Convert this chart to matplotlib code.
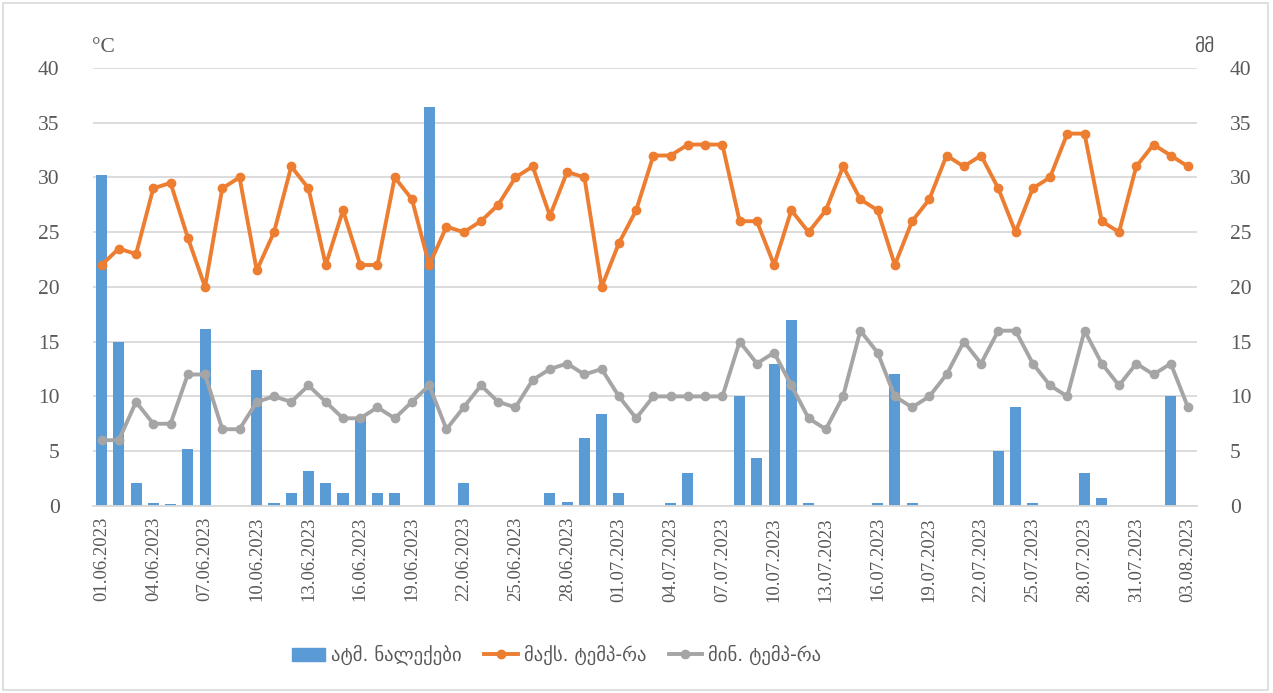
import matplotlib
matplotlib.use('Agg')
import matplotlib.pyplot as plt
import matplotlib.patches as mpatches
import pandas as pd
import numpy as np

# daily observations 01.06.2023 - 03.08.2023
dates = pd.date_range("2023-06-01", "2023-08-03", freq="D")
date_labels = [d.strftime("%d.%m.%Y") for d in dates]

precip = [30.2, 15.0, 2.1, 0.3, 0.15, 5.2, 16.2, 0, 0, 12.4,
          0.3, 1.2, 3.2, 2.1, 1.2, 8.1, 1.2, 1.2, 0, 36.4,
          0, 2.1, 0, 0, 0, 0, 1.2, 0.4, 6.2, 8.4,
          1.2, 0, 0, 0.3, 3.0, 0, 0, 10.0, 4.35, 13.0,
          17.0, 0.3, 0, 0, 0, 0.3, 12.0, 0.3, 0, 0,
          0, 0, 5.0, 9.0, 0.3, 0, 0, 3.0, 0.75, 0,
          0, 0, 10.0, 0]

tmax = [22, 23.5, 23, 29, 29.5, 24.5, 20, 29, 30, 21.5,
        25, 31, 29, 22, 27, 22, 22, 30, 28, 22,
        25.5, 25, 26, 27.5, 30, 31, 26.5, 30.5, 30, 20,
        24, 27, 32, 32, 33, 33, 33, 26, 26, 22,
        27, 25, 27, 31, 28, 27, 22, 26, 28, 32,
        31, 32, 29, 25, 29, 30, 34, 34, 26, 25,
        31, 33, 32, 31]

tmin = [6, 6, 9.5, 7.5, 7.5, 12, 12, 7, 7, 9.5,
        10, 9.5, 11, 9.5, 8, 8, 9, 8, 9.5, 11,
        7, 9, 11, 9.5, 9, 11.5, 12.5, 13, 12, 12.5,
        10, 8, 10, 10, 10, 10, 10, 15, 13, 14,
        11, 8, 7, 10, 16, 14, 10, 9, 10, 12,
        15, 13, 16, 16, 13, 11, 10, 16, 13, 11,
        13, 12, 13, 9]

yticks = [0, 5, 10, 15, 20, 25, 30, 35, 40]

serif = 'Liberation Serif'
geo = 'DejaVu Sans'
txt_col = '#595959'

fig = plt.figure(figsize=(12.73, 6.93), dpi=100)
fig.patches.append(mpatches.Rectangle((0.002, 0.004), 0.994, 0.992, transform=fig.transFigure,
                                      fill=False, edgecolor='#d9d9d9', linewidth=1.2))

ax = fig.add_axes([0.073, 0.270, 0.867, 0.632])
ax2 = ax.twinx()
ax.set_zorder(2)
ax2.set_zorder(1)
ax.patch.set_visible(False)

x = np.arange(len(dates))

# precipitation bars (mm) on the right axis, underneath
ax2.bar(x, precip, width=0.64, color='#5B9BD5', label='ატმ. ნალექები', zorder=2)
ax2.set_ylim(0, 40)
ax2.set_yticks(yticks)
ax2.grid(axis='y', color='#d9d9d9', linewidth=1.3, zorder=0)
ax2.set_axisbelow(True)

l1, = ax.plot(x, tmax, color='#ED7D31', linewidth=2.8, marker='o', markersize=6,
              label='მაქს. ტემპ-რა')
l2, = ax.plot(x, tmin, color='#A5A5A5', linewidth=2.8, marker='o', markersize=6,
              label='მინ. ტემპ-რა')
ax.set_ylim(0, 40)
ax.set_yticks(yticks)
ax.set_xlim(-0.5, len(dates) - 0.5)
ax.set_xticks(x[::3])
ax.set_xticklabels(date_labels[::3], rotation=90, fontfamily=serif, fontsize=13.5, color=txt_col)

for a in (ax, ax2):
    for s in a.spines.values():
        s.set_visible(False)
    a.tick_params(length=0)
ax.spines['bottom'].set_visible(True)
ax.spines['bottom'].set_color('#d9d9d9')
ax.spines['bottom'].set_linewidth(1.3)

ax.tick_params(axis='y', labelsize=15.5, labelcolor=txt_col, pad=24)
ax2.tick_params(axis='y', labelsize=15.5, labelcolor=txt_col, pad=24)
ax.tick_params(axis='x', pad=8)
for lab in ax.get_yticklabels() + ax2.get_yticklabels():
    lab.set_fontfamily(serif)

fig.text(0.072, 0.925, '°C', fontfamily=serif, fontsize=15.5, color=txt_col)
fig.text(0.938, 0.925, 'მმ', fontfamily=geo, fontsize=14, color=txt_col)

handles = [mpatches.Patch(color='#5B9BD5'), l1, l2]
labels = ['ატმ. ნალექები', 'მაქს. ტემპ-რა', 'მინ. ტემპ-რა']
fig.legend(handles, labels, loc='center', bbox_to_anchor=(0.437, 0.055), ncol=3, frameon=False,
           prop={'family': geo, 'size': 13.5}, labelcolor=txt_col, columnspacing=1.2,
           handlelength=1.8, handletextpad=0.3)

fig.savefig('out.png', dpi=100)
